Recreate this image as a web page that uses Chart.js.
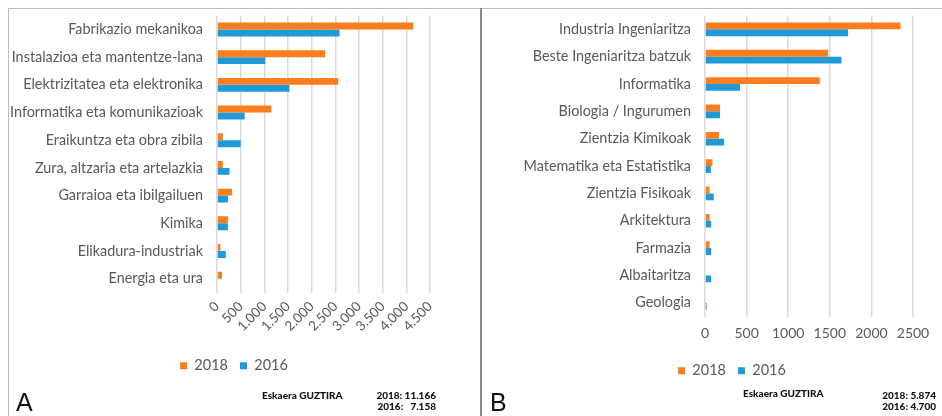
<!DOCTYPE html>
<html>
<head>
<meta charset="utf-8">
<script src="https://cdn.jsdelivr.net/npm/chart.js@4.4.0/dist/chart.umd.min.js"></script>
<style>
  body { margin: 0; background: #fff; width: 942px; height: 416px; position: relative; overflow: hidden; font-family: Lato, sans-serif; }
  .panel { position: absolute; }
  #lineTop { position: absolute; left: 8px; top: 8px; width: 934px; height: 1px; background: #bdbdbd; }
  #lineLeft { position: absolute; left: 8px; top: 8px; width: 1px; height: 408px; background: #bdbdbd; }
  #lineMid { position: absolute; left: 480px; top: 8px; width: 2px; height: 408px; background: #8a8a8a; }
  .letra { position: absolute; font-family: "Liberation Sans", Arial, sans-serif; font-size: 25px; color: #111; }
  .txt { position: absolute; font-weight: 900; font-size: 10px; color: #111; line-height: 11px; white-space: nowrap; }
  .right { text-align: right; }
</style>
</head>
<body>
<div class="panel" style="left:10px; top:-7px; width:460px; height:390px;"><canvas id="chartA"></canvas></div>
<div class="panel" style="left:483px; top:-7px; width:457px; height:395px;"><canvas id="chartB"></canvas></div>

<div id="lineTop"></div>
<div id="lineLeft"></div>
<div id="lineMid"></div>

<div class="letra" style="left:16px; top:388px;">A</div>
<div class="letra" style="left:490px; top:388px;">B</div>
<div class="txt" style="left:262px; top:390px;">Eskaera GUZTIRA</div>
<div class="txt right" style="left:355px; width:81px; top:390px;">2018: 11.166<br>2016:&nbsp;&nbsp; 7.158</div>
<div class="txt" style="left:743px; top:388px;">Eskaera GUZTIRA</div>
<div class="txt right" style="left:855px; width:81px; top:390px;">2018: 5.874<br>2016: 4.700</div>

<script>
// A: lanbide heziketa
const kategoriakA = ['Fabrikazio mekanikoa', 'Instalazioa eta mantentze-lana', 'Elektrizitatea eta elektronika',
  'Informatika eta komunikazioak', 'Eraikuntza eta obra zibila', 'Zura, altzaria eta artelazkia',
  'Garraioa eta ibilgailuen', 'Kimika', 'Elikadura-industriak', 'Energia eta ura'];
const datos2018A = [4150, 2285, 2560, 1150, 125, 125, 315, 230, 70, 105];
const datos2016A = [2590, 1020, 1530, 585, 500, 265, 230, 230, 185, 0];
const ticksA = ['0', '500', '1.000', '1.500', '2.000', '2.500', '3.000', '3.500', '4.000', '4.500'];

// B: unibertsitatea
const kategoriakB = ['Industria Ingeniaritza', 'Beste Ingeniaritza batzuk', 'Informatika', 'Biologia / Ingurumen',
  'Zientzia Kimikoak', 'Matematika eta Estatistika', 'Zientzia Fisikoak', 'Arkitektura', 'Farmazia',
  'Albaitaritza', 'Geologia'];
const datos2018B = [2350, 1480, 1380, 180, 170, 90, 55, 55, 55, 10, 0];
const datos2016B = [1720, 1640, 420, 180, 230, 70, 105, 75, 75, 75, 20];
const ticksB = ['0', '500', '1000', '1500', '2000', '2500'];

const naranja = '#FA7D1E';
const azul = '#1E9AD8';
const gris = '#595959';

function desplazarLeyenda(dx) {
    return {
        id: 'moverLeyenda',
        afterLayout(chart) {
            chart.legend.left += dx;
            chart.legend.right += dx;
        }
    };
}

function crearGrafico(id, labels, d2018, d2016, maximo, paso, tickLabels, opts) {
    const ctx = document.getElementById(id).getContext('2d');
    return new Chart(ctx, {
        type: 'bar',
        data: {
            labels: labels,
            datasets: [
                { label: '2018', data: d2018, backgroundColor: naranja, barPercentage: 1, categoryPercentage: 0.5 },
                { label: '2016', data: d2016, backgroundColor: azul, barPercentage: 1, categoryPercentage: 0.5 }
            ]
        },
        options: {
            indexAxis: 'y',
            responsive: true,
            maintainAspectRatio: false,
            animation: false,
            layout: { padding: opts.padding },
            plugins: {
                legend: {
                    position: 'bottom',
                    labels: {
                        boxWidth: 7, boxHeight: 7, padding: 12,
                        color: gris,
                        font: { family: 'Lato', size: 14.5 }
                    }
                },
                tooltip: { enabled: false }
            },
            scales: {
                x: {
                    min: 0, max: maximo,
                    grid: { color: '#dadada', lineWidth: 1.5, drawTicks: false },
                    border: { display: false },
                    ticks: {
                        stepSize: paso,
                        autoSkip: false,
                        color: gris,
                        padding: opts.tickPad,
                        maxRotation: opts.rot, minRotation: opts.rot,
                        font: { family: 'Lato', size: opts.tickSize },
                        callback: (v, i) => tickLabels[i]
                    },
                    afterFit: (scale) => { scale.height = opts.xHeight; }
                },
                y: {
                    grid: { display: false, drawTicks: false },
                    border: { display: false },
                    ticks: {
                        color: gris,
                        padding: 14,
                        autoSkip: false,
                        font: { family: 'Lato', size: 14.4 }
                    },
                    afterFit: (scale) => { scale.width = opts.yWidth; }
                }
            }
        },
        plugins: [desplazarLeyenda(opts.legendDx)]
    });
}

crearGrafico('chartA', kategoriakA, datos2018A, datos2016A, 4500, 500, ticksA,
    { padding: { top: 0, right: 40, bottom: 0, left: 0 }, tickPad: 6, rot: 45, tickSize: 13.5, xHeight: 54, yWidth: 207, legendDx: 14 });
crearGrafico('chartB', kategoriakB, datos2018B, datos2016B, 2500, 500, ticksB,
    { padding: { top: 0, right: 27, bottom: 0, left: 0 }, tickPad: 9, rot: 0, tickSize: 14, xHeight: 35, yWidth: 222, legendDx: 34 });
</script>
</body>
</html>
